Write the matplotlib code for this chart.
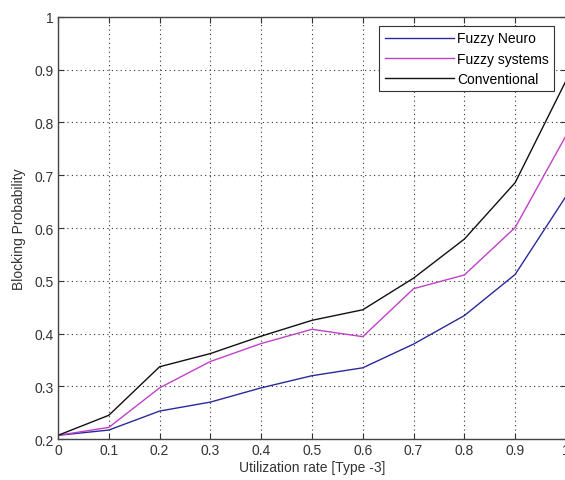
import numpy as np
import matplotlib.pyplot as plt

plt.rcParams['font.family'] = ['Liberation Sans', 'DejaVu Sans']

# utilization rate
x = [0, 0.1, 0.2, 0.3, 0.4, 0.5, 0.6, 0.7, 0.8, 0.9, 1.0]
fuzzy_neuro = [0.207, 0.217, 0.253, 0.270, 0.297, 0.320, 0.335, 0.380, 0.434, 0.512, 0.660]
fuzzy_sys = [0.207, 0.222, 0.297, 0.347, 0.381, 0.408, 0.394, 0.485, 0.511, 0.601, 0.775]
conventional = [0.207, 0.245, 0.337, 0.362, 0.395, 0.425, 0.445, 0.505, 0.579, 0.686, 0.879]

xticks = [0, 0.1, 0.2, 0.3, 0.4, 0.5, 0.6, 0.7, 0.8, 0.9, 1]
yticks = [0.2, 0.3, 0.4, 0.5, 0.6, 0.7, 0.8, 0.9, 1]

fig = plt.figure(figsize=(5.65, 4.81), dpi=100)
ax = fig.add_axes([0.1027, 0.0852, 0.899, 0.8774])

ax.plot(x, fuzzy_neuro, color='#2a2a9a', lw=1.0, label='Fuzzy Neuro')
ax.plot(x, fuzzy_sys, color='#c040c8', lw=1.0, label='Fuzzy systems')
ax.plot(x, conventional, color='#111111', lw=1.0, label='Conventional')

ax.set_xlim(0, 1)
ax.set_ylim(0.2, 1)
ax.set_xticks(xticks)
ax.set_yticks(yticks)
ax.set_xticklabels(['0', '0.1', '0.2', '0.3', '0.4', '0.5', '0.6', '0.7', '0.8', '0.9', '1'])
ax.set_yticklabels(['0.2', '0.3', '0.4', '0.5', '0.6', '0.7', '0.8', '0.9', '1'])
ax.tick_params(direction='in', top=True, right=True, labelsize=10, colors='#333333',
               length=4, pad=3)
for s in ax.spines.values():
    s.set_color('#444444')
    s.set_linewidth(1.0)
ax.grid(True, linestyle=(0, (1, 3)), color='#333333', linewidth=0.8)

ax.set_xlabel('Utilization rate [Type -3]', fontsize=10, color='#333333', labelpad=2)
ax.set_ylabel('Blocking Probability', fontsize=10, color='#333333', labelpad=6)

leg = ax.legend(loc='upper right', bbox_to_anchor=(0.977, 0.979), borderaxespad=0,
                fontsize=10, fancybox=False, framealpha=1, edgecolor='#333333',
                handlelength=5.0, handletextpad=0.2, borderpad=0.4, labelspacing=0.45)
leg.get_frame().set_linewidth(0.8)

fig.savefig('out.png', dpi=100)
